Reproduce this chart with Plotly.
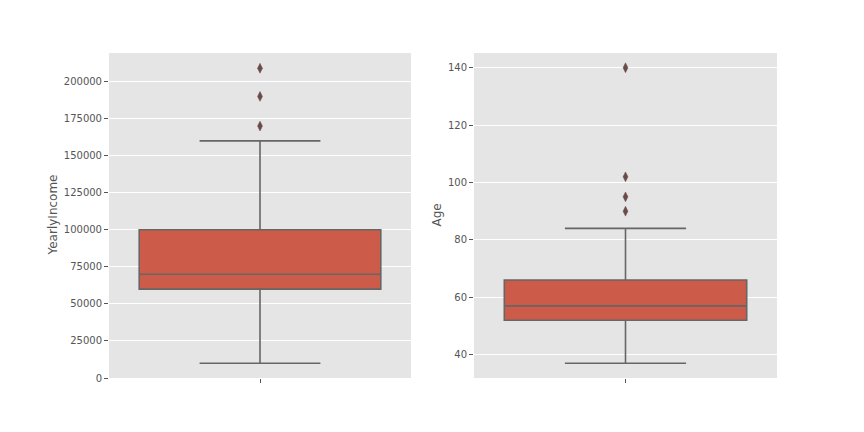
import plotly.graph_objects as go

# Data
income_stats = {"q1": 60000, "median": 70000, "q3": 100000, "lower": 10000, "upper": 160000}
income_outliers = [170000, 190000, 209000]
age_stats = {"q1": 52, "median": 57, "q3": 66, "lower": 37, "upper": 84}
age_outliers = [90, 95, 102, 140]
income_ticks = [0, 25000, 50000, 75000, 100000, 125000, 150000, 175000, 200000]
age_ticks = [40, 60, 80, 100, 120, 140]

BOX_FILL = "#CD5B49"
LINE = "#666666"
FLIER = "#6b4a4a"
BG = "#E5E5E5"
FONT = "DejaVu Sans"

fig = go.Figure()

def add_box(stats, outliers, xa, ya):
    fig.add_trace(go.Box(
        x=[0], q1=[stats["q1"]], median=[stats["median"]], q3=[stats["q3"]],
        lowerfence=[stats["lower"]], upperfence=[stats["upper"]],
        width=0.8, whiskerwidth=0.5, fillcolor=BOX_FILL,
        line=dict(color=LINE, width=1.6), boxpoints=False,
        xaxis=xa, yaxis=ya, showlegend=False, hoverinfo="y"))
    fig.add_trace(go.Scatter(
        x=[0] * len(outliers), y=outliers, mode="markers",
        marker=dict(symbol="diamond-tall", size=7, color=FLIER,
                    line=dict(color=FLIER, width=0.5)),
        xaxis=xa, yaxis=ya, showlegend=False))

add_box(income_stats, income_outliers, "x", "y")
add_box(age_stats, age_outliers, "x2", "y2")

common_x = dict(range=[-0.5, 0.5], tickvals=[0], ticktext=[""], ticks="outside",
                ticklen=4, tickcolor="#555555", showgrid=False, zeroline=False,
                showline=False, fixedrange=True, automargin=False)
common_y = dict(ticks="outside", ticklen=4, tickcolor="#555555", showgrid=True,
                gridcolor="white", gridwidth=1, zeroline=False, showline=False,
                automargin=False,
                tickfont=dict(family=FONT, size=10, color="#555555"))

ydom = [1 - 378/432, 1 - 53/432]
fig.update_layout(
    width=864, height=432,
    margin=dict(l=0, r=0, t=0, b=0, autoexpand=False),
    paper_bgcolor="white", plot_bgcolor=BG,
    font=dict(family=FONT, color="#555555"),
    xaxis=dict(domain=[109/864, 411/864], anchor="y", **common_x),
    yaxis=dict(domain=ydom, anchor="x", range=[0, 219300],
               tickvals=income_ticks, ticktext=[str(t) for t in income_ticks],
               **common_y),
    xaxis2=dict(domain=[474/864, 777/864], anchor="y2", **common_x),
    yaxis2=dict(domain=ydom, anchor="x2", range=[31.85, 145.15],
                tickvals=age_ticks, ticktext=[str(t) for t in age_ticks],
                **common_y),
)

for text, xpix in [("YearlyIncome", 52), ("Age", 436)]:
    fig.add_annotation(text=text, xref="paper", yref="paper",
                       x=xpix/864, y=(ydom[0] + ydom[1]) / 2,
                       textangle=-90, showarrow=False,
                       xanchor="center", yanchor="middle",
                       font=dict(family=FONT, size=12, color="#555555"))

fig.write_html("out.html", config={"displayModeBar": False},
               post_script="document.body.style.margin='0';document.body.style.padding='0';")
